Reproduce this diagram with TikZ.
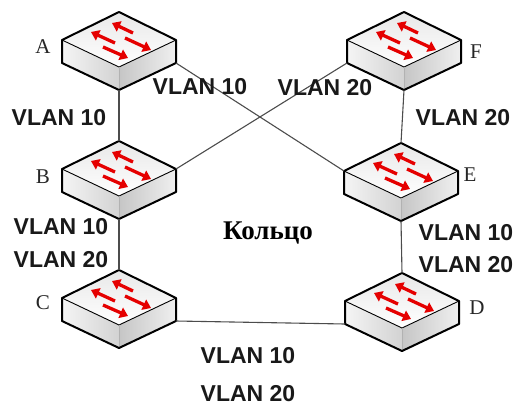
\documentclass[tikz,border=0pt]{standalone}
\usepackage{fontspec}
\setmainfont{Liberation Serif}
\setsansfont{Liberation Sans}
\usetikzlibrary{arrows.meta}

\begin{document}
\begin{tikzpicture}[x=1pt, y=-1pt, >={Triangle[length=8pt, width=11pt]},
        link/.style={draw=black!70, line width=1.1pt},
        vlan/.style={font=\sffamily\bfseries\fontsize{23}{27}\selectfont, text=black!90, inner sep=0pt},
        letter/.style={font=\fontsize{21}{24}\selectfont, text=black!85, inner sep=0pt},
        switch/.pic={
            % corners, top vertex at the origin
            \coordinate (-top) at (0,0);
            \coordinate (-l) at (-57,28);
            \coordinate (-r) at (57,28);
            \coordinate (-lb) at (-57,51);
            \coordinate (-rb) at (57,51);
            \coordinate (-bot) at (0,78);
            % faces
            \path[left color=gray!8, right color=gray!35] (-57,28) -- (0,55) -- (0,78) -- (-57,51) -- cycle;
            \path[left color=gray!45, right color=gray!12] (0,55) -- (57,28) -- (57,51) -- (0,78) -- cycle;
            \path[top color=gray!18, bottom color=white] (0,0) -- (57,28) -- (0,55) -- (-57,28) -- cycle;
            \draw[line width=0.9pt] (-57,28) -- (0,55) -- (57,28);
            \draw[gray!60, line width=0.7pt] (0,55) -- (0,78);
            \draw[line width=2pt, line join=round] (0,0) -- (57,28) -- (57,51) -- (0,78) -- (-57,51) -- (-57,28) -- cycle;
            % arrows
            \foreach \xa/\ya/\xb/\yb in {14/21/-7/11, -4/31/-28/20, 6/26/32/38, -16/35/9/46}
                \draw[->, red!90!black, line width=3.3pt] (\xa,\ya) -- (\xb,\yb);
        }]
    \useasboundingbox (0,0) rectangle (518,407);

    % Switches
    \pic (A) at (119,12) {switch};
    \pic (B) at (119,141) {switch};
    \pic (C) at (119,270) {switch};
    \pic (F) at (404,12) {switch};
    \pic (E) at (401,143) {switch};
    \pic (D) at (402,273) {switch};

    % Links
    \draw[link] (A-bot) -- (B-top);
    \draw[link] (B-bot) -- (C-top);
    \draw[link] (F-bot) -- (E-top);
    \draw[link] (E-bot) -- (D-top);
    \draw[link] (A-rb) -- (E-l);
    \draw[link] (B-r) -- (F-lb);
    \draw[link] (C-rb) -- (D-lb);

    % Switch names
    \node[letter] (labA) at (43,47) {A};
    \node[letter] (labB) at (43,177) {B};
    \node[letter] (labC) at (43,303) {C};
    \node[letter] (labD) at (477,308) {D};
    \node[letter] (labE) at (470,175) {E};
    \node[letter] (labF) at (476,52) {F};

    % VLAN labels
    \node[vlan] (vlanAB) at (59,118) {VLAN 10};
    \node[vlan] (vlanAE) at (200,87) {VLAN 10};
    \node[vlan] (vlanBF) at (325,88) {VLAN 20};
    \node[vlan] (vlanFE) at (463,118) {VLAN 20};
    \node[vlan] (vlanBCa) at (61,227) {VLAN 10};
    \node[vlan] (vlanBCb) at (61,260) {VLAN 20};
    \node[vlan] (vlanEDa) at (466,233) {VLAN 10};
    \node[vlan] (vlanEDb) at (466,265) {VLAN 20};
    \node[vlan] (vlanCDa) at (248,356) {VLAN 10};
    \node[vlan] (vlanCDb) at (248,394) {VLAN 20};

    % Ring
    \node[font=\bfseries\fontsize{27}{31}\selectfont] (ring) at (268,233) {Кольцо};
\end{tikzpicture}
\end{document}
